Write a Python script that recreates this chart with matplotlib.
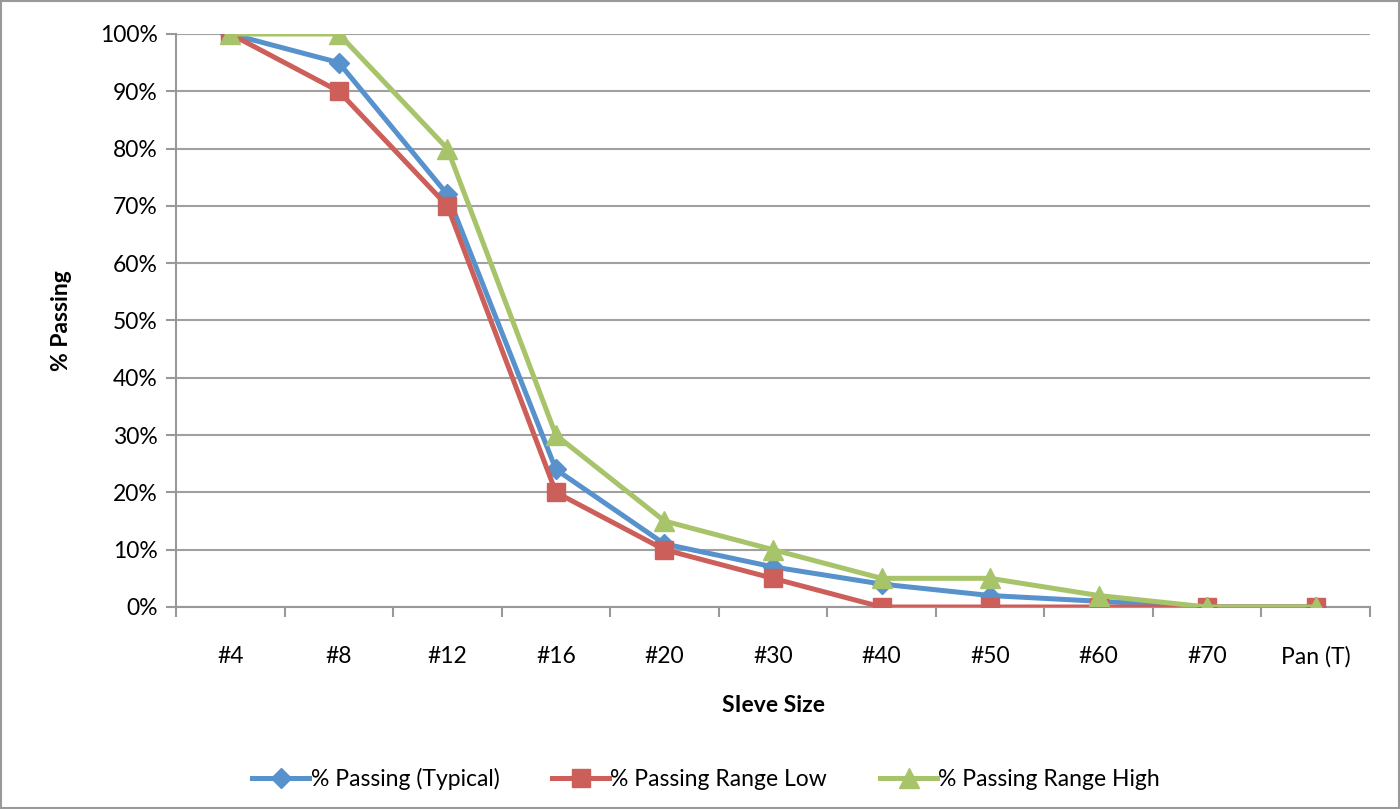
import matplotlib
matplotlib.use("Agg")
from matplotlib import pyplot as plt
from matplotlib.ticker import FixedLocator, PercentFormatter
import numpy as np

sieves = ["#4", "#8", "#12", "#16", "#20", "#30", "#40", "#50", "#60", "#70", "Pan (T)"]
typical = [100, 95, 72, 24, 11, 7, 4, 2, 1, 0, 0]
range_low = [100, 90, 70, 20, 10, 5, 0, 0, 0, 0, 0]
range_high = [100, 100, 80, 30, 15, 10, 5, 5, 2, 0, 0]

plt.rcParams["font.family"] = ["Lato", "DejaVu Sans"]

fig = plt.figure(figsize=(14, 8.09), dpi=100)
ax = fig.add_axes([0.1257, 0.2497, 0.8529, 0.7083])

x = np.arange(len(sieves))
ax.plot(x, typical, color="#5892CC", lw=3.6, marker="D", ms=10,
        label="% Passing (Typical)", zorder=3)
ax.plot(x, range_low, color="#CD5F5A", lw=3.6, marker="s", ms=13,
        label="% Passing Range Low", zorder=4)
ax.plot(x, range_high, color="#A8C46A", lw=3.6, marker="^", ms=14,
        label="% Passing Range High", zorder=5)

ax.set_xlim(-0.5, len(sieves) - 0.5)
ax.set_ylim(0, 100)
ax.set_yticks(range(0, 101, 10))
ax.yaxis.set_major_formatter(PercentFormatter(decimals=0))
ax.set_xticks(x)
ax.set_xticklabels(sieves)
ax.xaxis.set_minor_locator(FixedLocator(np.arange(-0.5, len(sieves), 1)))
ax.tick_params(axis="x", which="major", length=0, pad=28, labelsize=16.5)
ax.tick_params(axis="x", which="minor", length=7, color="#999999", width=1.5)
ax.tick_params(axis="y", length=7, color="#999999", width=1.5, labelsize=16.5, pad=6)

ax.grid(axis="y", color="#A0A0A0", lw=1.5)
ax.set_axisbelow(True)
for side in ["top", "right"]:
    ax.spines[side].set_visible(False)
for side in ["left", "bottom"]:
    ax.spines[side].set_color("#999999")
    ax.spines[side].set_linewidth(1.5)

ax.set_ylabel("% Passing", fontsize=16.5, fontweight="bold", labelpad=20)
ax.set_xlabel("SIeve Size", fontsize=16.5, fontweight="bold", labelpad=20)

ax.legend(loc="upper center", bbox_to_anchor=(0.444, -0.245), ncol=3, frameon=False,
          fontsize=16.5, handlelength=2.5, handletextpad=0.05, columnspacing=2.3)

fig.patches.append(plt.Rectangle((0.001, 0.001), 0.998, 0.998, transform=fig.transFigure,
                                 fill=False, edgecolor="#999999", lw=1.5))

fig.savefig("out.png", dpi=100)
